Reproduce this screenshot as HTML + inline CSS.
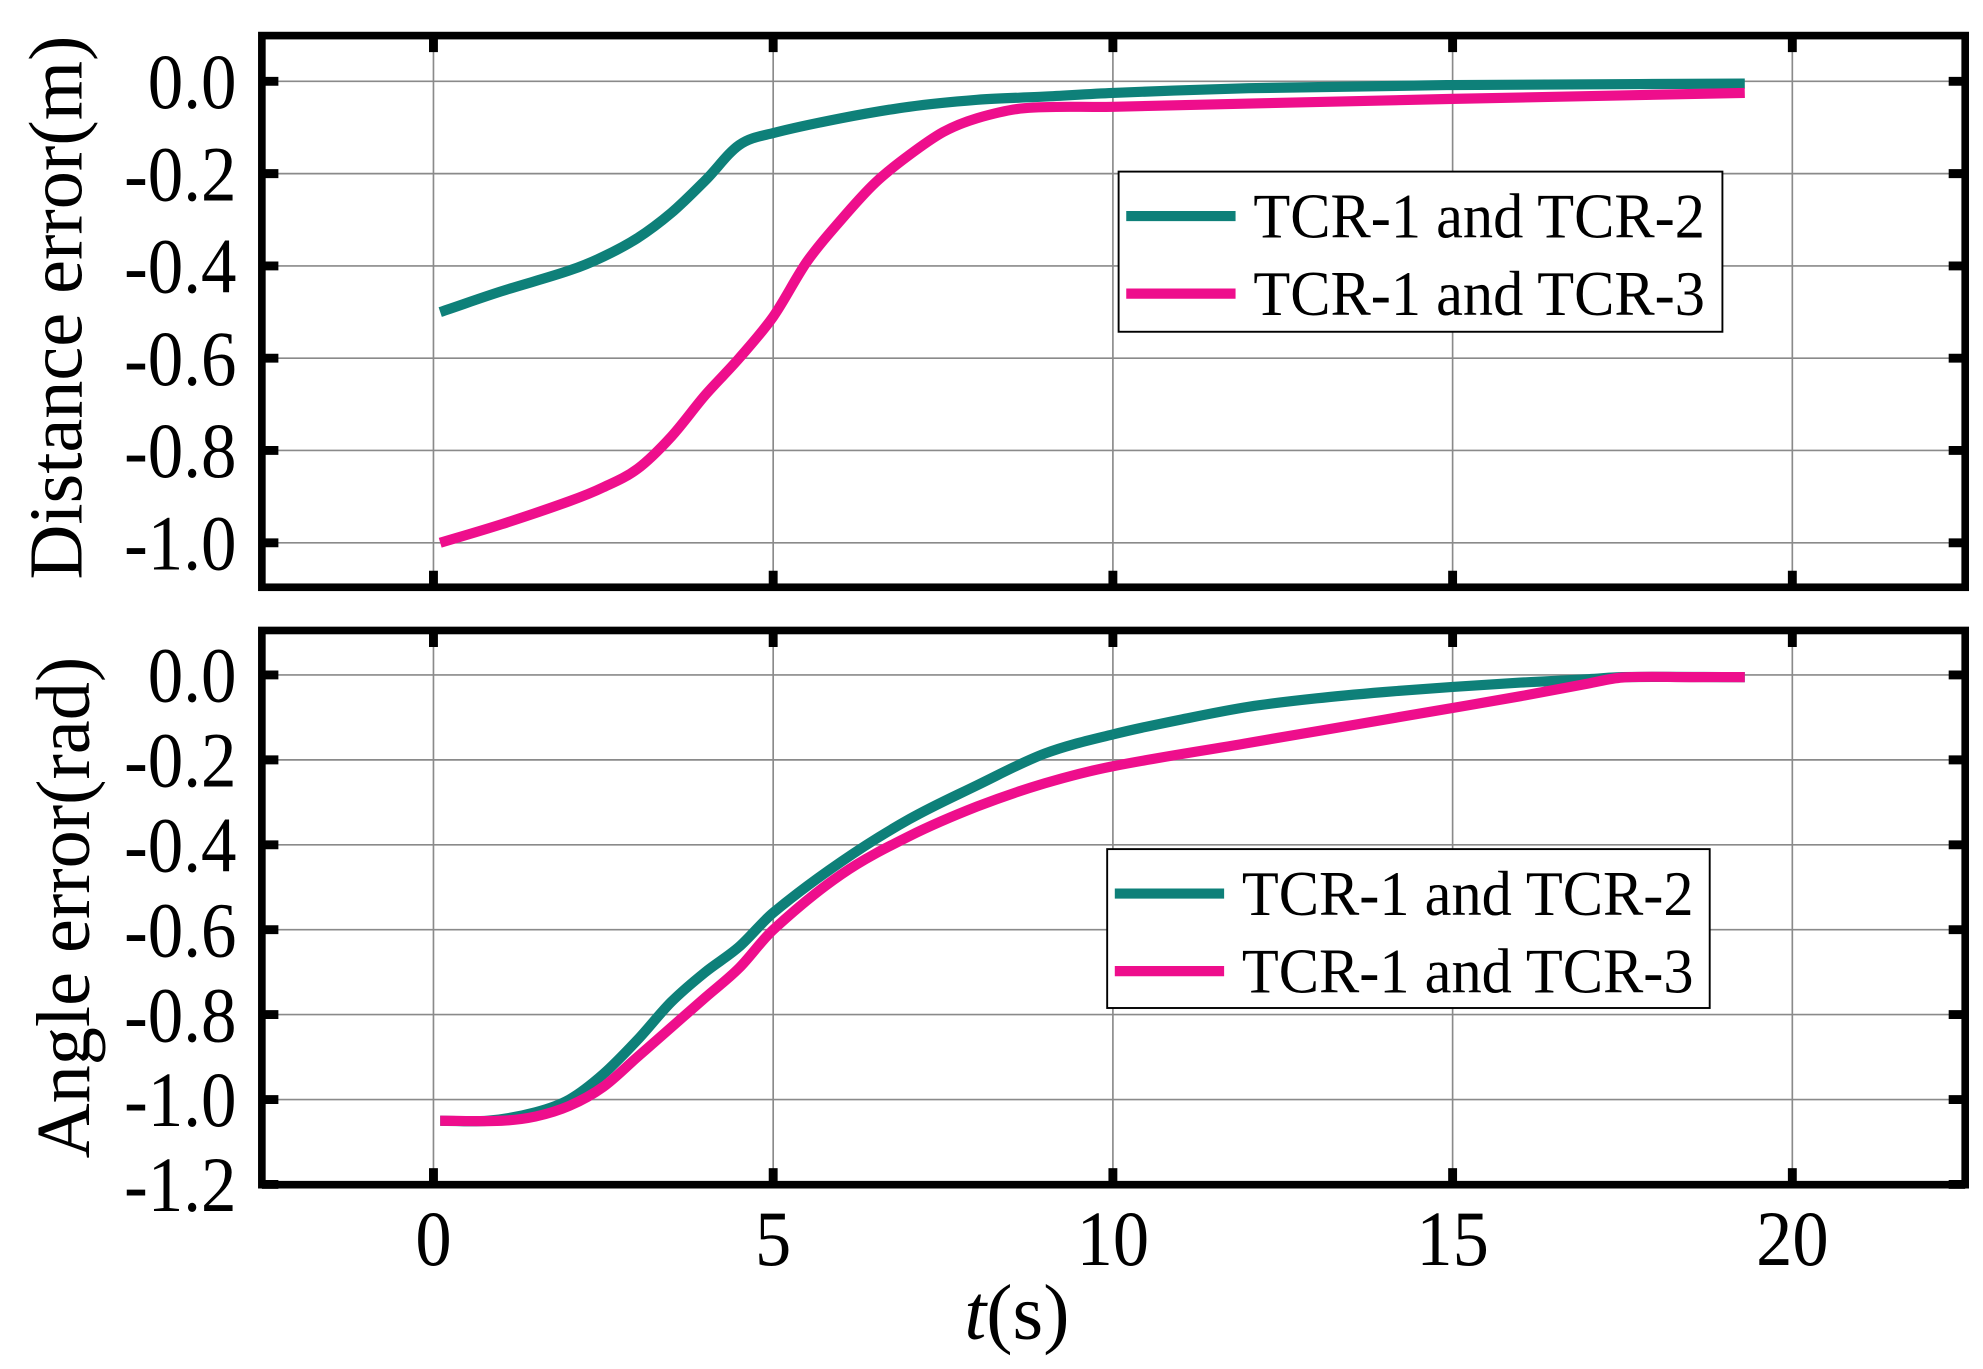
<!DOCTYPE html>
<html><head><meta charset="utf-8"><style>
html,body{margin:0;padding:0;background:#fff}
svg{display:block}
text{font-family:"Liberation Serif",serif;fill:#000}
</style></head><body>
<svg id="chart" width="1983" height="1369" viewBox="0 0 1560 1077" preserveAspectRatio="none" xmlns="http://www.w3.org/2000/svg"></svg>
<script>
const xTicks=[0,5,10,15,20];
const yTicksTop=[0.0,-0.2,-0.4,-0.6,-0.8,-1.0];
const yTickLabelsTop=["0.0","-0.2","-0.4","-0.6","-0.8","-1.0"];
const yTicksBot=[0.0,-0.2,-0.4,-0.6,-0.8,-1.0,-1.2];
const yTickLabelsBot=["0.0","-0.2","-0.4","-0.6","-0.8","-1.0","-1.2"];
const seriesNames=["TCR-1 and TCR-2","TCR-1 and TCR-3"];
const distT12=[0.1,1,2,2.5,3,3.5,4,4.5,5,6,7,8,9,10,12,15,19.3];
const distV12=[-0.5,-0.455,-0.41,-0.38,-0.34,-0.285,-0.215,-0.138,-0.112,-0.08,-0.055,-0.04,-0.033,-0.025,-0.015,-0.008,-0.005];
const distT13=[0.1,1,2,2.5,3,3.5,4,4.5,5,5.5,6,6.5,7,7.5,8,8.7,10,15,19.3];
const distV13=[-1.0,-0.96,-0.91,-0.88,-0.84,-0.77,-0.68,-0.6,-0.51,-0.39,-0.3,-0.22,-0.16,-0.11,-0.08,-0.058,-0.055,-0.038,-0.025];
const angT12=[0.1,0.8,1.5,2,2.5,3,3.5,4,4.5,5,6,7,8,9,10,11,12,13,14,15,16,17,17.5,19.3];
const angV12=[-1.05,-1.05,-1.03,-1.0,-0.94,-0.86,-0.77,-0.7,-0.64,-0.56,-0.44,-0.34,-0.26,-0.185,-0.14,-0.105,-0.075,-0.055,-0.04,-0.028,-0.018,-0.01,-0.005,-0.005];
const angT13=[0.1,1,1.5,2,2.5,3,3.5,4,4.5,5,6,7,8,9,10,12,14,16,17,17.5,18.5,19.3];
const angV13=[-1.05,-1.05,-1.04,-1.015,-0.97,-0.9,-0.83,-0.76,-0.69,-0.6,-0.47,-0.38,-0.31,-0.255,-0.215,-0.16,-0.105,-0.05,-0.02,-0.006,-0.005,-0.005];

const svg=document.getElementById('chart');
const NS='http://www.w3.org/2000/svg';
function mk(tag,attrs,parent){const e=document.createElementNS(NS,tag);for(const k in attrs)e.setAttribute(k,attrs[k]);(parent||svg).appendChild(e);return e;}
const X0=206,X1=1546;
function xs(t){return 341+(t-0)*(1410-341)/20;}
const TEAL='#0e8079',PINK='#ee0e8c';
function smooth(P){let d='M'+P[0][0].toFixed(1)+','+P[0][1].toFixed(1);
  for(let i=0;i<P.length-1;i++){const p0=P[Math.max(0,i-1)],p1=P[i],p2=P[i+1],p3=P[Math.min(P.length-1,i+2)];
    const h=p2[0]-p1[0];
    const s1=(p2[1]-p0[1])/((p2[0]-p0[0])||1), s2=(p3[1]-p1[1])/((p3[0]-p1[0])||1);
    const c1=[p1[0]+h/3,p1[1]+s1*h/3],c2=[p2[0]-h/3,p2[1]-s2*h/3];
    d+='C'+c1[0].toFixed(1)+','+c1[1].toFixed(1)+' '+c2[0].toFixed(1)+','+c2[1].toFixed(1)+' '+p2[0].toFixed(1)+','+p2[1].toFixed(1);}
  return d;}

function panel(name,top,bottom,y0px,ypu,ticks,labels,tA,vA,tB,vB,ylabel,ylx,yly,leg){
  const g=mk('g',{});
  
  
  const Y=v=>y0px+(-v)*ypu;
  xTicks.forEach(t=>{const l=mk('line',{x1:xs(t),x2:xs(t),y1:top,y2:bottom,stroke:'#8a8a8a','stroke-width':1.3},g);
    });
  ticks.forEach(v=>{const l=mk('line',{x1:X0,x2:X1,y1:Y(v),y2:Y(v),stroke:'#8a8a8a','stroke-width':1.3},g);
    });
  function path(T,V,col,nm){const P=T.map((t,i)=>[xs(t),Y(V[i])]);
    const p=mk('path',{d:smooth(P),fill:'none',stroke:col,'stroke-width':8,'stroke-linejoin':'round'},g);
    }
  path(tA,vA,TEAL,'series-tcr1-tcr2');
  path(tB,vB,PINK,'series-tcr1-tcr3');
  const f=mk('rect',{x:X0,y:top,width:X1-X0,height:bottom-top,fill:'none',stroke:'#000','stroke-width':6},g);
  
  xTicks.forEach(t=>{
    mk('line',{x1:xs(t),x2:xs(t),y1:top,y2:top+13,stroke:'#000','stroke-width':7},g);
    mk('line',{x1:xs(t),x2:xs(t),y1:bottom,y2:bottom-13,stroke:'#000','stroke-width':7},g);});
  ticks.forEach((v,i)=>{
    mk('line',{x1:X0,x2:X0+13,y1:Y(v),y2:Y(v),stroke:'#000','stroke-width':7},g);
    mk('line',{x1:X1,x2:X1-13,y1:Y(v),y2:Y(v),stroke:'#000','stroke-width':7},g);
    const tx=mk('text',{x:0,y:0,'text-anchor':'end','font-size':62,transform:`translate(186,${Y(v)+21}) scale(0.9,1)`},g);
    tx.textContent=labels[i];
    });
  const yl=mk('text',{x:0,y:0,'text-anchor':'middle','font-size':60,transform:`translate(${ylx},${yly}) rotate(-90)`},g);
  yl.textContent=ylabel;
  
  const lg=mk('g',{},g);
  
  mk('rect',{x:leg.x,y:leg.y,width:leg.w,height:leg.h,fill:'#fff',stroke:'#000','stroke-width':1.5},lg);
  [TEAL,PINK].forEach((c,i)=>{
    const yy=leg.y+35+i*61;
    const e=mk('g',{},lg);
    
    mk('line',{x1:leg.x+6,x2:leg.x+92,y1:yy,y2:yy,stroke:c,'stroke-width':8},e);
    const t=mk('text',{x:0,y:0,'font-size':50,transform:`translate(${leg.x+106},${yy+17}) scale(0.95,1)`},e);t.textContent=seriesNames[i];});
}
panel('distance-error-panel',28,462,64,363,yTicksTop,yTickLabelsTop,distT12,distV12,distT13,distV13,'Distance error(m)',64,242,{x:880,y:135,w:475,h:126});
panel('angle-error-panel',496,932,531,(865-531),yTicksBot,yTickLabelsBot,angT12,angV12,angT13,angV13,'Angle error(rad)',70,714,{x:871,y:668,w:474,h:125});
xTicks.forEach(t=>{const tx=mk('text',{x:0,y:0,'text-anchor':'middle','font-size':62,transform:`translate(${xs(t)},995) scale(0.92,1)`});tx.textContent=String(t);
  });
const xl=mk('text',{x:800,y:1053,'text-anchor':'middle','font-size':62});

const it=mk('tspan',{'font-style':'italic'},xl);it.textContent='t';
const rest=mk('tspan',{},xl);rest.textContent='(s)';
</script>
</body></html>
